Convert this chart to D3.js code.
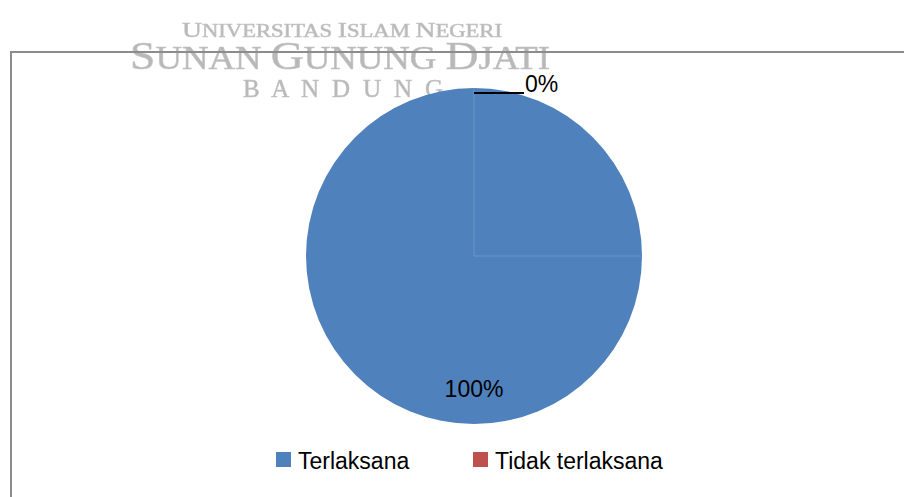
<!DOCTYPE html>
<html>
<head>
<meta charset="utf-8">
<script src="https://cdn.jsdelivr.net/npm/d3@7"></script>
<style>
  body { margin:0; background:#fff; }
  svg { display:block; }
</style>
</head>
<body>
<div id="chart-area"></div>
<script>
// data
var categories = ["Terlaksana", "Tidak terlaksana"];
var values = [100, 0];
var colors = ["#4f81bd", "#c0504d"];
var watermarkLines = ["Universitas Islam Negeri", "Sunan Gunung Djati", "B A N D U N G"];

var width = 904, height = 497;

var svg = d3.select("#chart-area").append("svg")
    .attr("width", width)
    .attr("height", height);

// blur for the scanned watermark
svg.append("defs").append("filter")
    .attr("id", "soft")
    .append("feGaussianBlur")
    .attr("stdDeviation", 0.7);

// watermark (small caps done with tspans)
var wm = svg.append("g")
    .attr("filter", "url(#soft)")
    .attr("fill", "#b8b8b8")
    .attr("stroke", "#c4c4c4")
    .attr("stroke-width", 0.6)
    .style("font-family", "'Liberation Serif', 'DejaVu Serif', serif");

function smallCaps(textSel, str, big, small) {
    str.split(" ").forEach(function(word, i) {
        if (i > 0) textSel.append("tspan").attr("font-size", small).text(" ");
        textSel.append("tspan").attr("font-size", big).text(word[0].toUpperCase());
        textSel.append("tspan").attr("font-size", small).text(word.slice(1).toUpperCase());
    });
}

var l1 = wm.append("text").attr("x", 182).attr("y", 37)
    .attr("textLength", 320).attr("lengthAdjust", "spacingAndGlyphs");
smallCaps(l1, watermarkLines[0], 22, 18);

var l2 = wm.append("text").attr("x", 130).attr("y", 69)
    .attr("textLength", 420).attr("lengthAdjust", "spacingAndGlyphs");
smallCaps(l2, watermarkLines[1], 41, 33);

wm.append("text").attr("x", 243).attr("y", 97)
    .attr("font-size", 25)
    .attr("textLength", 200).attr("lengthAdjust", "spacing")
    .text(watermarkLines[2]);

// chart area border
svg.append("path")
    .attr("d", "M11," + height + "V52H" + width)
    .attr("fill", "none")
    .attr("stroke", "#8c8c8c")
    .attr("stroke-width", 2);

// pie
var cx = 474, cy = 256, radius = 168;
var g = svg.append("g").attr("transform", "translate(" + cx + "," + cy + ")");

var pie = d3.pie().sort(null).value(function(d) { return d; });
var arcs = pie(values);
var arc = d3.arc().innerRadius(0).outerRadius(radius);
var labelArc = d3.arc().innerRadius(radius * 0.79).outerRadius(radius * 0.79);

g.selectAll(".slice")
    .data(arcs)
    .enter().append("path")
    .attr("class", "slice")
    .attr("d", arc)
    .attr("fill", function(d, i) { return colors[i]; });

// faint seams seen inside the big slice
[0, Math.PI / 2].forEach(function(a) {
    g.append("line")
        .attr("x1", 0).attr("y1", 0)
        .attr("x2", Math.sin(a) * radius).attr("y2", -Math.cos(a) * radius)
        .attr("stroke", "#6b95c9")
        .attr("stroke-width", 1);
});

var fontFam = "'Liberation Sans', Arial, sans-serif";
var fontSize = "23px";

arcs.forEach(function(d, i) {
    var pct = Math.round(d.value / d3.sum(values) * 100) + "%";
    if (d.endAngle - d.startAngle > 0.5) {
        var c = labelArc.centroid(d);
        g.append("text")
            .attr("x", c[0]).attr("y", c[1] + 8)
            .attr("text-anchor", "middle")
            .style("font-family", fontFam)
            .style("font-size", fontSize)
            .attr("fill", "#000")
            .text(pct);
    } else {
        // tiny slice: leader line out to the right
        var a = (d.startAngle + d.endAngle) / 2;
        var px = Math.sin(a) * (radius - 5), py = -Math.cos(a) * (radius - 5);
        g.append("line")
            .attr("x1", px).attr("y1", py)
            .attr("x2", px + 50).attr("y2", py)
            .attr("stroke", "#000")
            .attr("stroke-width", 2);
        g.append("text")
            .attr("x", px + 51).attr("y", py - 1)
            .style("font-family", fontFam)
            .style("font-size", fontSize)
            .attr("fill", "#000")
            .text(pct);
    }
});

// legend
var legendX = [276, 473];
var legend = svg.selectAll(".legend")
    .data(categories)
    .enter().append("g")
    .attr("class", "legend")
    .attr("transform", function(d, i) { return "translate(" + legendX[i] + ",452)"; });

legend.append("rect")
    .attr("width", 15).attr("height", 15)
    .attr("fill", function(d, i) { return colors[i]; });

legend.append("text")
    .attr("x", 22).attr("y", 17)
    .style("font-family", fontFam)
    .style("font-size", fontSize)
    .attr("fill", "#000")
    .text(function(d) { return d; });
</script>
</body>
</html>
